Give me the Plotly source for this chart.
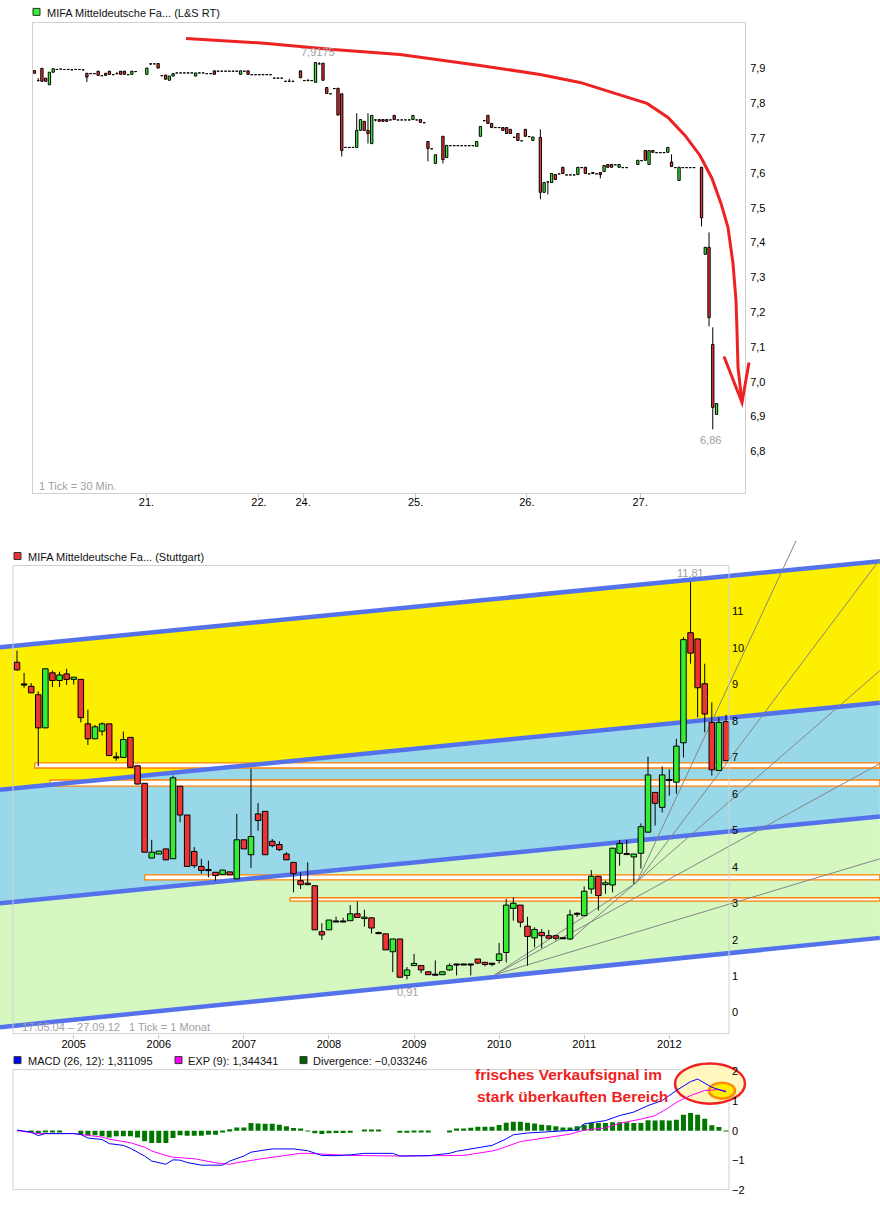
import plotly.graph_objects as go

# ---------------- page geometry helpers ----------------
W, H = 880, 1206
# the page photo maps figure y to picture y as  3.6 + 0.9915 * y ; invert it here
Y_OFF, Y_SCALE = 3.6, 0.9915
def fx(px):
    return px / W
def fy(py):
    return 1 - ((py - Y_OFF) / Y_SCALE) / H

GREEN = "#33ee33"
RED = "#ee3333"
FONT = "Liberation Sans, Arial, sans-serif"

# ---------------- panel 1: 30-minute candles (L&S RT) ----------------
bar_30m = [1, 2, 3, 4, 5, 6, 7, 8, 9, 10, 11, 12, 13, 14, 15, 16, 17, 18, 19, 20,
           21, 22, 23, 24, 25, 26, 27, 28, 31, 32, 33, 34, 35, 36, 37, 38, 39, 40, 41, 42,
           43, 44, 45, 46, 47, 48, 49, 50, 51, 52, 53, 54, 55, 56, 57, 58, 59, 60, 61, 62,
           63, 64, 65, 66, 67, 68, 69, 70, 72, 73, 74, 75, 76, 77, 78, 79, 80, 81, 82, 83,
           84, 85, 86, 87, 88, 89, 90, 91, 92, 93, 94, 95, 96, 97, 98, 99, 100, 101, 102, 103,
           104, 105, 106, 107, 108, 110, 111, 112, 113, 114, 115, 116, 117, 118, 119, 120, 121, 122, 123, 124,
           125, 126, 127, 128, 129, 130, 131, 132, 133, 134, 136, 137, 138, 139, 140, 141, 142, 143, 144, 145,
           146, 147, 148, 149, 150, 151, 152, 153, 154, 155, 156, 157, 158, 159, 162, 163, 164, 165, 166, 167,
           168, 169, 170, 171, 172, 173, 174, 175, 176, 177, 179, 180, 181, 182, 183]
open_30m = [7.894, 7.866, 7.900, 7.872, 7.853, 7.889, 7.898, 7.899, 7.898, 7.898, 7.897, 7.898, 7.898, 7.897, 7.886, 7.886, 7.886, 7.892, 7.880, 7.886,
            7.892, 7.883, 7.886, 7.892, 7.892, 7.883, 7.883, 7.892, 7.883, 7.914, 7.914, 7.914, 7.880, 7.881, 7.866, 7.878, 7.888, 7.888, 7.888, 7.888,
            7.888, 7.878, 7.888, 7.888, 7.886, 7.886, 7.893, 7.893, 7.893, 7.893, 7.893, 7.893, 7.893, 7.883, 7.893, 7.893, 7.883, 7.883, 7.883, 7.883,
            7.883, 7.883, 7.873, 7.873, 7.873, 7.864, 7.864, 7.864, 7.893, 7.866, 7.866, 7.866, 7.860, 7.914, 7.915, 7.845, 7.828, 7.843, 7.843, 7.827,
            7.674, 7.674, 7.674, 7.673, 7.722, 7.748, 7.722, 7.684, 7.753, 7.753, 7.753, 7.753, 7.753, 7.765, 7.753, 7.753, 7.753, 7.753, 7.753, 7.753,
            7.753, 7.745, 7.690, 7.670, 7.627, 7.705, 7.644, 7.679, 7.679, 7.679, 7.679, 7.679, 7.679, 7.679, 7.676, 7.705, 7.751, 7.765, 7.742, 7.731,
            7.731, 7.730, 7.730, 7.725, 7.703, 7.713, 7.693, 7.725, 7.705, 7.693, 7.702, 7.544, 7.575, 7.572, 7.595, 7.598, 7.616, 7.595, 7.595, 7.595,
            7.595, 7.616, 7.616, 7.598, 7.598, 7.598, 7.601, 7.604, 7.624, 7.624, 7.624, 7.616, 7.616, 7.616, 7.624, 7.636, 7.664, 7.624, 7.664, 7.659,
            7.659, 7.659, 7.659, 7.631, 7.616, 7.578, 7.616, 7.616, 7.616, 7.616, 7.616, 7.366, 7.386, 7.107, 6.906]
high_30m = [7.894, 7.872, 7.900, 7.872, 7.889, 7.900, 7.898, 7.899, 7.898, 7.898, 7.897, 7.898, 7.898, 7.897, 7.886, 7.886, 7.886, 7.892, 7.880, 7.886,
            7.892, 7.883, 7.889, 7.892, 7.892, 7.883, 7.892, 7.892, 7.901, 7.914, 7.914, 7.914, 7.880, 7.881, 7.878, 7.885, 7.888, 7.888, 7.888, 7.888,
            7.888, 7.887, 7.888, 7.888, 7.886, 7.886, 7.893, 7.893, 7.893, 7.893, 7.893, 7.893, 7.893, 7.893, 7.893, 7.893, 7.883, 7.883, 7.883, 7.883,
            7.883, 7.883, 7.873, 7.873, 7.873, 7.864, 7.870, 7.864, 7.893, 7.866, 7.870, 7.866, 7.917, 7.9175, 7.915, 7.845, 7.828, 7.843, 7.843, 7.827,
            7.674, 7.674, 7.674, 7.771, 7.753, 7.748, 7.771, 7.765, 7.753, 7.753, 7.753, 7.753, 7.753, 7.765, 7.753, 7.753, 7.753, 7.753, 7.765, 7.753,
            7.753, 7.745, 7.690, 7.670, 7.652, 7.705, 7.679, 7.679, 7.679, 7.679, 7.679, 7.679, 7.679, 7.679, 7.690, 7.733, 7.751, 7.765, 7.742, 7.731,
            7.731, 7.730, 7.730, 7.725, 7.703, 7.713, 7.693, 7.725, 7.705, 7.703, 7.725, 7.572, 7.575, 7.598, 7.595, 7.598, 7.616, 7.595, 7.595, 7.595,
            7.616, 7.616, 7.616, 7.598, 7.601, 7.598, 7.601, 7.621, 7.624, 7.624, 7.624, 7.624, 7.616, 7.616, 7.636, 7.636, 7.664, 7.664, 7.664, 7.659,
            7.659, 7.659, 7.673, 7.653, 7.616, 7.616, 7.616, 7.616, 7.616, 7.616, 7.616, 7.386, 7.429, 7.156, 6.937]
low_30m = [7.886, 7.863, 7.863, 7.863, 7.853, 7.889, 7.898, 7.899, 7.898, 7.898, 7.897, 7.898, 7.898, 7.897, 7.861, 7.886, 7.886, 7.880, 7.880, 7.880,
           7.883, 7.883, 7.883, 7.883, 7.883, 7.883, 7.883, 7.889, 7.883, 7.910, 7.914, 7.901, 7.880, 7.869, 7.866, 7.878, 7.888, 7.888, 7.888, 7.888,
           7.888, 7.878, 7.888, 7.888, 7.886, 7.886, 7.883, 7.893, 7.893, 7.893, 7.893, 7.893, 7.893, 7.883, 7.893, 7.883, 7.883, 7.883, 7.883, 7.883,
           7.883, 7.883, 7.873, 7.873, 7.873, 7.864, 7.864, 7.864, 7.873, 7.866, 7.866, 7.866, 7.860, 7.912, 7.866, 7.828, 7.828, 7.843, 7.766, 7.647,
           7.674, 7.674, 7.674, 7.673, 7.722, 7.722, 7.684, 7.684, 7.748, 7.748, 7.748, 7.748, 7.753, 7.753, 7.753, 7.753, 7.753, 7.753, 7.753, 7.753,
           7.745, 7.745, 7.633, 7.670, 7.627, 7.627, 7.644, 7.679, 7.679, 7.679, 7.679, 7.679, 7.679, 7.679, 7.676, 7.705, 7.748, 7.742, 7.730, 7.731,
           7.731, 7.722, 7.713, 7.713, 7.700, 7.693, 7.693, 7.705, 7.705, 7.693, 7.524, 7.544, 7.538, 7.572, 7.581, 7.598, 7.598, 7.595, 7.595, 7.595,
           7.595, 7.616, 7.598, 7.598, 7.598, 7.598, 7.584, 7.604, 7.616, 7.616, 7.624, 7.616, 7.616, 7.616, 7.624, 7.636, 7.636, 7.624, 7.659, 7.659,
           7.659, 7.659, 7.659, 7.618, 7.616, 7.578, 7.616, 7.616, 7.616, 7.616, 7.446, 7.366, 7.159, 6.863, 6.906]
close_30m = [7.886, 7.866, 7.863, 7.863, 7.889, 7.899, 7.898, 7.899, 7.898, 7.898, 7.897, 7.898, 7.898, 7.897, 7.875, 7.886, 7.886, 7.880, 7.880, 7.880,
             7.883, 7.883, 7.886, 7.883, 7.883, 7.883, 7.892, 7.892, 7.901, 7.914, 7.914, 7.901, 7.880, 7.869, 7.878, 7.885, 7.888, 7.888, 7.888, 7.888,
             7.888, 7.887, 7.888, 7.888, 7.886, 7.886, 7.883, 7.893, 7.893, 7.893, 7.893, 7.893, 7.893, 7.893, 7.893, 7.883, 7.883, 7.883, 7.883, 7.883,
             7.883, 7.883, 7.873, 7.873, 7.873, 7.864, 7.864, 7.864, 7.873, 7.866, 7.866, 7.866, 7.917, 7.914, 7.866, 7.828, 7.828, 7.843, 7.766, 7.664,
             7.674, 7.674, 7.674, 7.722, 7.753, 7.722, 7.713, 7.765, 7.753, 7.748, 7.748, 7.748, 7.753, 7.753, 7.753, 7.753, 7.753, 7.753, 7.765, 7.753,
             7.745, 7.745, 7.670, 7.670, 7.652, 7.638, 7.679, 7.679, 7.679, 7.679, 7.679, 7.679, 7.679, 7.679, 7.690, 7.733, 7.751, 7.742, 7.730, 7.731,
             7.731, 7.722, 7.713, 7.713, 7.703, 7.693, 7.693, 7.705, 7.705, 7.703, 7.544, 7.572, 7.575, 7.598, 7.581, 7.598, 7.598, 7.595, 7.595, 7.595,
             7.616, 7.616, 7.598, 7.598, 7.601, 7.598, 7.595, 7.621, 7.616, 7.616, 7.624, 7.624, 7.616, 7.616, 7.636, 7.636, 7.636, 7.664, 7.659, 7.659,
             7.659, 7.659, 7.673, 7.618, 7.616, 7.616, 7.616, 7.616, 7.616, 7.616, 7.471, 7.386, 7.184, 6.926, 6.937]
day_tick_pos = [30.9, 60.9, 72.7, 102.7, 132.4, 162.6]
day_tick_txt = ["21.", "22.", "24.", "25.", "26.", "27."]
p1_ticks = [6.8, 6.9, 7.0, 7.1, 7.2, 7.3, 7.4, 7.5, 7.6, 7.7, 7.8, 7.9]

# ---------------- panel 2: monthly candles (Stuttgart), month 0 = May 2004 ----------------
open_m = [9.61, 9.00, 8.95, 8.72, 7.81, 9.32, 9.11, 9.29, 9.14, 9.14, 7.92, 7.51, 7.72, 7.92, 7.00, 7.00, 7.55, 6.77, 6.29, 4.24,
          4.35, 4.49, 4.22, 6.21, 5.42, 4.42, 4.01, 3.91, 3.85, 3.79, 3.86, 3.67, 4.74, 4.33, 5.45, 5.52, 4.70, 4.61, 4.35, 4.12,
          3.62, 3.55, 3.48, 2.22, 2.27, 2.50, 2.50, 2.52, 2.71, 2.58, 2.60, 2.18, 2.16, 1.67, 2.02, 1.02, 1.29, 1.29, 1.12, 1.04,
          1.04, 1.17, 1.32, 1.32, 1.32, 1.47, 1.38, 1.34, 1.43, 1.65, 2.86, 2.95, 2.37, 2.05, 2.20, 2.11, 2.11, 2.04, 2.02, 2.71,
          2.66, 3.39, 3.74, 3.51, 3.50, 4.37, 4.35, 4.27, 4.37, 4.95, 6.04, 5.63, 6.38, 6.32, 7.40, 10.42, 10.25, 9.02, 7.96, 6.64,
          7.98]
high_m = [9.93, 9.32, 9.04, 8.81, 9.43, 9.38, 9.35, 9.43, 9.20, 9.14, 8.31, 7.89, 7.96, 7.92, 7.14, 7.71, 7.55, 6.77, 6.29, 4.74,
          4.43, 4.49, 6.50, 6.21, 5.42, 4.54, 4.22, 4.17, 3.85, 3.91, 3.86, 5.45, 4.74, 6.69, 5.75, 5.52, 4.76, 4.70, 4.40, 4.12,
          3.85, 4.12, 3.48, 2.45, 2.54, 2.63, 2.60, 2.95, 3.05, 2.82, 2.60, 2.22, 2.16, 2.02, 2.02, 1.25, 1.61, 1.29, 1.12, 1.43,
          1.12, 1.35, 1.32, 1.32, 1.32, 1.47, 1.38, 1.34, 1.91, 3.12, 3.16, 2.95, 2.63, 2.34, 2.29, 2.27, 2.11, 2.04, 2.82, 2.75,
          3.46, 3.91, 3.74, 3.62, 4.51, 4.74, 4.74, 4.35, 5.19, 7.02, 6.04, 6.75, 6.67, 7.51, 10.30, 11.81, 10.25, 9.57, 8.51, 8.10,
          8.17]
low_m = [9.38, 8.91, 8.77, 6.76, 7.81, 8.93, 8.93, 8.99, 9.00, 7.96, 7.34, 7.51, 7.60, 7.05, 6.91, 7.00, 6.73, 6.25, 4.40, 4.24,
         4.35, 4.19, 4.22, 5.22, 4.01, 3.97, 3.81, 3.71, 3.62, 3.79, 3.78, 3.67, 4.49, 3.97, 4.99, 4.33, 4.53, 4.43, 4.19, 3.30,
         3.39, 3.51, 2.27, 1.99, 2.27, 2.48, 2.48, 2.52, 2.61, 2.36, 2.17, 2.16, 1.72, 1.11, 0.97, 0.91, 1.29, 1.08, 1.04, 1.04,
         1.04, 1.15, 1.02, 1.32, 1.02, 1.33, 1.27, 1.27, 1.35, 1.38, 2.52, 2.34, 1.29, 1.79, 1.77, 2.04, 1.98, 2.04, 2.00, 2.62,
         2.66, 3.26, 2.80, 3.26, 3.30, 4.03, 4.35, 3.53, 3.95, 4.95, 5.13, 5.49, 5.95, 6.00, 7.00, 9.57, 8.10, 7.69, 6.50, 6.64,
         6.91]
close_m = [9.40, 9.00, 8.77, 7.81, 9.43, 9.11, 9.26, 9.14, 9.20, 8.09, 7.51, 7.84, 7.92, 7.05, 7.00, 7.49, 6.73, 6.27, 4.40, 4.40,
           4.43, 4.19, 6.44, 5.42, 4.01, 4.03, 3.90, 3.91, 3.76, 3.91, 3.78, 4.74, 4.49, 4.83, 5.27, 4.33, 4.58, 4.47, 4.19, 3.81,
           3.51, 3.51, 2.27, 2.13, 2.54, 2.50, 2.50, 2.71, 2.61, 2.62, 2.32, 2.18, 1.72, 2.02, 0.97, 1.17, 1.35, 1.17, 1.04, 1.04,
           1.12, 1.29, 1.32, 1.32, 1.32, 1.36, 1.32, 1.34, 1.61, 2.95, 3.00, 2.48, 2.09, 2.28, 2.11, 2.04, 2.04, 2.04, 2.68, 2.71,
           3.33, 3.74, 3.21, 3.56, 4.51, 4.64, 4.35, 4.35, 5.10, 6.52, 5.74, 6.52, 6.38, 7.31, 10.23, 9.86, 8.91, 8.19, 6.66, 7.96,
           6.91]
months = list(range(len(open_m)))
year_tick_pos = [8, 20, 32, 44, 56, 68, 80, 92]
year_tick_txt = ["2005", "2006", "2007", "2008", "2009", "2010", "2011", "2012"]

# channel lines (start month, price) -> (end month, price)
chan_x = [-2.4, 121.7]
chan_top = [10.02, 12.38]
chan_mid1 = [6.11, 8.50]
chan_mid2 = [3.00, 5.38]
chan_bot = [-0.40, 2.05]

# horizontal zones (start month, top, bottom)
zone_start = [2.5, 4.65, 18.0, 38.5]
zone_top = [6.85, 6.38, 3.78, 3.15]
zone_bot = [6.71, 6.21, 3.64, 3.06]

# fan lines (x0, y0, x1, y1) in month / price
fan_x0 = [67.4, 67.4, 67.4, 87.4, 87.4, 78.0]
fan_y0 = [1.04, 1.04, 1.04, 3.57, 3.57, 1.99]
fan_x1 = [121.7, 121.7, 87.4, 109.9, 121.7, 121.7]
fan_y1 = [4.22, 6.83, 3.57, 12.95, 12.43, 9.38]

# ---------------- panel 3: MACD ----------------
macd_x = [0, 2, 3, 4, 6, 8, 9, 10, 12, 13, 15, 16, 18, 19, 21, 22, 23, 24, 26, 29, 30, 32, 33, 36, 39, 41, 43, 45, 47,
          49, 53, 54, 58, 61, 62, 65, 67, 69, 70, 72, 75, 77, 79, 80, 83, 85, 87, 89, 91, 93, 95, 96, 97, 98, 100]
macd_y = [0.02, -0.05, -0.17, -0.10, -0.10, -0.10, -0.13, -0.25, -0.30, -0.44, -0.50, -0.60, -0.86, -1.03, -1.14, -0.99,
          -1.00, -1.08, -1.17, -1.17, -1.03, -0.86, -0.73, -0.62, -0.62, -0.68, -0.84, -0.85, -0.82, -0.77, -0.77, -0.86,
          -0.85, -0.77, -0.70, -0.59, -0.50, -0.28, -0.14, -0.08, -0.03, -0.02, 0.02, 0.23, 0.34, 0.51, 0.63, 0.85, 1.02,
          1.36, 1.66, 1.75, 1.61, 1.47, 1.311]
sig_x = [0, 3, 8, 10, 12, 13, 16, 18, 19, 21, 22, 25, 28, 30, 31, 34, 37, 40, 41, 43, 47, 54, 60, 63, 67, 68, 71, 75,
         78, 80, 83, 85, 88, 90, 92, 93, 95, 97, 99, 100]
sig_y = [0.0, -0.10, -0.10, -0.15, -0.22, -0.29, -0.41, -0.56, -0.69, -0.84, -0.90, -0.95, -1.09, -1.14, -1.09, -0.97,
         -0.86, -0.77, -0.77, -0.80, -0.84, -0.86, -0.86, -0.84, -0.69, -0.63, -0.37, -0.24, -0.12, 0.02, 0.09, 0.25,
         0.39, 0.51, 0.79, 0.96, 1.19, 1.36, 1.39, 1.344]
diverg = [0, 0, -0.05, -0.10, -0.05, -0.05, -0.05, 0, 0, -0.11, -0.16, -0.16, -0.19, -0.23, -0.19, -0.19, -0.19, -0.23,
          -0.36, -0.42, -0.42, -0.42, -0.25, -0.16, -0.17, -0.17, -0.17, -0.14, -0.14, -0.04, 0.05, 0.11, 0.11, 0.26,
          0.24, 0.23, 0.23, 0.20, 0.15, 0.09, 0.07, -0.03, -0.09, -0.11, -0.09, -0.08, -0.08, -0.07, 0, 0.04, 0.04, 0.04,
          0, 0, -0.07, -0.07, -0.06, -0.06, -0.05, 0, 0, -0.04, 0.07, 0.07, 0.10, 0.13, 0.13, 0.13, 0.19, 0.27, 0.30,
          0.30, 0.27, 0.24, 0.20, 0.18, 0.15, 0.11, 0.11, 0.15, 0.20, 0.26, 0.26, 0.26, 0.28, 0.28, 0.28, 0.26, 0.26,
          0.35, 0.34, 0.35, 0.34, 0.37, 0.54, 0.60, 0.54, 0.40, 0.18, 0.12, -0.033]

# ---------------- build figure ----------------
fig = go.Figure()


def add_candles(x, o, h, l, c, width, minh, xa, ya):
    wx, wy = [], []
    for xi, hi, li in zip(x, h, l):
        if hi > li:
            wx += [xi, xi, None]
            wy += [li, hi, None]
    fig.add_trace(go.Scatter(x=wx, y=wy, mode="lines", line=dict(color="black", width=1),
                             xaxis=xa, yaxis=ya, hoverinfo="skip", showlegend=False))
    groups = {GREEN: ([], []), RED: ([], []), "black": ([], [])}
    for xi, oi, ci in zip(x, o, c):
        lo, hi2 = min(oi, ci), max(oi, ci)
        if hi2 - lo < minh:
            mid = (lo + hi2) / 2
            lo, hi2 = mid - minh / 2, mid + minh / 2
        col = GREEN if ci > oi else (RED if ci < oi else "black")
        gx, gy = groups[col]
        a, b = xi - width / 2, xi + width / 2
        gx += [a, b, b, a, a, None]
        gy += [lo, lo, hi2, hi2, lo, None]
    for col, (gx, gy) in groups.items():
        if gx:
            fig.add_trace(go.Scatter(x=gx, y=gy, mode="lines", fill="toself", fillcolor=col,
                                     line=dict(color="black", width=1), xaxis=xa, yaxis=ya,
                                     hoverinfo="skip", showlegend=False))


# panel 1
add_candles(bar_30m, open_30m, high_30m, low_30m, close_30m, 0.62, 0.002, "x", "y")

# panel 2 bands
def poly(xa, ya, x, y, fillcolor, linecolor="rgba(0,0,0,0)", lw=0):
    fig.add_trace(go.Scatter(x=x, y=y, mode="lines", fill="toself", fillcolor=fillcolor,
                             line=dict(color=linecolor, width=lw), xaxis=xa, yaxis=ya,
                             hoverinfo="skip", showlegend=False))

poly("x2", "y2", [chan_x[0], chan_x[1], chan_x[1], chan_x[0]],
     [chan_top[0], chan_top[1], chan_mid1[1], chan_mid1[0]], "#fcf000")
poly("x2", "y2", [chan_x[0], chan_x[1], chan_x[1], chan_x[0]],
     [chan_mid1[0], chan_mid1[1], chan_mid2[1], chan_mid2[0]], "#99d8e8")
poly("x2", "y2", [chan_x[0], chan_x[1], chan_x[1], chan_x[0]],
     [chan_mid2[0], chan_mid2[1], chan_bot[1], chan_bot[0]], "#d5f8c1")

for zs, zt, zb in zip(zone_start, zone_top, zone_bot):
    poly("x2", "y2", [zs, chan_x[1], chan_x[1], zs, zs], [zt, zt, zb, zb, zt],
         "white", "#ff8000", 1.3)

for yy in (chan_top, chan_mid1, chan_mid2, chan_bot):
    fig.add_trace(go.Scatter(x=chan_x, y=yy, mode="lines", line=dict(color="#5472ec", width=4.5),
                             xaxis="x2", yaxis="y2", hoverinfo="skip", showlegend=False))

for a, b, c2, d in zip(fan_x0, fan_y0, fan_x1, fan_y1):
    fig.add_trace(go.Scatter(x=[a, c2], y=[b, d], mode="lines", line=dict(color="#858585", width=1),
                             xaxis="x2", yaxis="y2", hoverinfo="skip", showlegend=False))

add_candles(months, open_m, high_m, low_m, close_m, 0.78, 0.03, "x2", "y2")

# panel 3
fig.add_trace(go.Bar(x=months, y=diverg, width=0.7, marker=dict(color="#007800", line=dict(width=0)),
                     xaxis="x3", yaxis="y3", showlegend=False, hoverinfo="skip"))
fig.add_trace(go.Scatter(x=sig_x, y=sig_y, mode="lines", line=dict(color="#ff00ff", width=1),
                         xaxis="x3", yaxis="y3", showlegend=False, hoverinfo="skip"))
fig.add_trace(go.Scatter(x=macd_x, y=macd_y, mode="lines", line=dict(color="#0000ff", width=1),
                         xaxis="x3", yaxis="y3", showlegend=False, hoverinfo="skip"))

# ---------------- shapes ----------------
shapes = []
def rect(x0, y0, x1, y1, line="#d0d0d0", fill=None, layer="above", lw=1):
    d = dict(type="rect", xref="paper", yref="paper", x0=fx(x0), x1=fx(x1), y0=fy(y1), y1=fy(y0),
             line=dict(color=line, width=lw), layer=layer)
    if fill:
        d["fillcolor"] = fill
    shapes.append(d)

rect(13, 565, 729, 1033)
rect(13, 1069, 729, 1189, layer="below")
# MACD highlight ellipses
shapes.append(dict(type="circle", xref="paper", yref="paper", x0=fx(675), x1=fx(745), y0=fy(1103), y1=fy(1063),
                   fillcolor="#fff6c0", line=dict(color="#ee2222", width=2.5), layer="below"))
shapes.append(dict(type="circle", xref="paper", yref="paper", x0=fx(709), x1=fx(735), y0=fy(1098), y1=fy(1082),
                   fillcolor="#ffee00", line=dict(color="#ff8c00", width=2.5), layer="below"))
# legend squares
rect(33, 8, 40, 15, line="#333333", fill=GREEN)
rect(14, 552, 21, 559, line="#333333", fill=RED)
rect(14, 1056, 21, 1063, line="#333333", fill="#0000ff")
rect(175, 1056, 182, 1063, line="#333333", fill="#ff00ff")
rect(300, 1056, 307, 1063, line="#333333", fill="#006600")

# red arrow (hand-drawn annotation) in page pixels
arrow_px = [(186, 38), (267, 43), (333, 49), (400, 54), (480, 65), (540, 74), (580, 82), (615, 93),
            (647, 103), (668, 117), (685, 135), (700, 155), (712, 178), (721, 203), (728, 227),
            (733, 263), (736, 300), (737, 330), (738, 367), (742, 402)]
path = "M " + " L ".join(f"{fx(a):.5f},{fy(b):.5f}" for a, b in arrow_px)
shapes.append(dict(type="path", xref="paper", yref="paper", path=path,
                   line=dict(color="#ee2222", width=3)))
head = [(724, 356), (742, 402), (749, 362)]
path2 = "M " + " L ".join(f"{fx(a):.5f},{fy(b):.5f}" for a, b in head)
shapes.append(dict(type="path", xref="paper", yref="paper", path=path2,
                   line=dict(color="#ee2222", width=3)))

# ---------------- annotations ----------------
ann = []
def text(x, y, s, size=11, color="#111111", xanchor="left", bold=False, family=FONT):
    ann.append(dict(x=fx(x), y=fy(y), xref="paper", yref="paper", text=(f"<b>{s}</b>" if bold else s),
                    showarrow=False, xanchor=xanchor, yanchor="middle",
                    font=dict(size=size, color=color, family=family)))

text(45, 13, "MIFA Mitteldeutsche Fa... (L&amp;S RT)")
text(26, 556, "MIFA Mitteldeutsche Fa... (Stuttgart)")
text(26, 1060, "MACD (26, 12): 1,311095")
text(186, 1060, "EXP (9): 1,344341")
text(311, 1060, "Divergence: −0,033246")
text(318, 52, "7,9175", color="#a0a0a0", xanchor="center")
text(710, 440, "6,86", color="#a0a0a0", xanchor="center")
text(37, 485, "1 Tick = 30 Min.", color="#a0a0a0")
text(690, 572, "11,81", color="#a0a0a0", xanchor="center")
text(407, 991, "0,91", color="#a0a0a0", xanchor="center")
text(20, 1026, "17.05.04 – 27.09.12   1 Tick = 1 Monat", color="#a0a0a0")
text(568, 1074, "frisches Verkaufsignal im", size=15.5, color="#ee2222", xanchor="center", bold=True)
text(572, 1096, "stark überkauften Bereich", size=15.5, color="#ee2222", xanchor="center", bold=True)

tickfont = dict(family=FONT, size=11, color="#000000")
common = dict(showgrid=False, zeroline=False, tickfont=tickfont)

fig.update_layout(
    width=W, height=H, margin=dict(l=0, r=0, t=0, b=0),
    paper_bgcolor="white", plot_bgcolor="rgba(0,0,0,0)",
    barmode="overlay", showlegend=False, font=dict(family=FONT, size=11),
    shapes=shapes, annotations=ann,
    xaxis=dict(domain=[fx(33), fx(745)], range=[0.62, 190.6], anchor="y",
               tickvals=day_tick_pos, ticktext=day_tick_txt, ticks="outside", ticklen=4,
               tickcolor="#c8c8c8", showline=True, mirror=True, linecolor="#d0d0d0",
               ticklabelstandoff=-5, **common),
    yaxis=dict(domain=[fy(492), fy(23)], range=[6.6816, 8.0293], anchor="x", side="right",
               tickvals=p1_ticks, ticktext=[f"{v:.1f}".replace(".", ",") for v in p1_ticks], ticks="",
               showline=True, mirror=True, linecolor="#d0d0d0", ticklabelstandoff=2, **common),
    xaxis2=dict(domain=[0, 1], range=[-2.398, 121.72], anchor="y2",
                tickvals=year_tick_pos, ticktext=year_tick_txt, ticks="outside", ticklen=4,
                tickcolor="#c8c8c8", showline=False, ticklabelstandoff=-4, **common),
    yaxis2=dict(domain=[fy(1033), fy(540)], range=[-0.576, 12.949], anchor="free", position=fx(729),
                side="right", tickvals=list(range(12)), ticks="", showline=False, ticklabelstandoff=2, **common),
    xaxis3=dict(domain=[0, 1], range=[-2.398, 121.72], anchor="y3", showticklabels=False, ticks="",
                showline=False, **common),
    yaxis3=dict(domain=[fy(1189), fy(1069)], range=[-2.0, 2.068], anchor="free", position=fx(729),
                side="right", tickvals=[-2, -1, 0, 1, 2], ticks="", showline=False, ticklabelstandoff=2, **common),
)

post = (
    "document.documentElement.style.margin='0';document.documentElement.style.overflow='hidden';"
    "document.body.style.margin='0';document.body.style.overflow='hidden';"
)
fig.write_html("out.html", config={"displayModeBar": False}, post_script=post)
